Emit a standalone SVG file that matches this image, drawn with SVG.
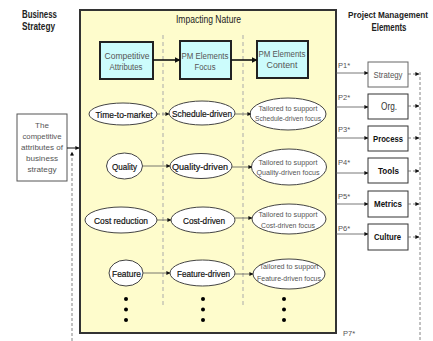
<svg xmlns="http://www.w3.org/2000/svg" width="433" height="341" viewBox="0 0 433 341">
<style>
text{font-family:"Liberation Sans",Arial,sans-serif;}
.hd{font-size:10.5px;font-weight:bold;fill:#222;}
.tt{font-size:10px;fill:#222;}
.bx{fill:#ccfcfc;stroke:#222;stroke-width:2;}
.bt{font-size:8.5px;fill:#555;text-anchor:middle;}
.el{fill:#fff;stroke:#444;stroke-width:1;}
.et{font-size:9.5px;fill:#111;text-anchor:middle;stroke:#111;stroke-width:0.2;}
.tl{font-size:8px;fill:#555;text-anchor:middle;}
.rb{fill:#fff;stroke:#333;stroke-width:1;}
.rt{font-size:9.5px;font-weight:bold;fill:#111;text-anchor:middle;}
.pl{font-size:7.5px;fill:#555;}
.sep{stroke:#aaa;stroke-width:1;stroke-dasharray:4 3;fill:none;}
.dash{stroke:#666;stroke-width:0.8;stroke-dasharray:3 2;fill:none;}
.thin{stroke:#555;stroke-width:0.8;fill:none;}
.thick{stroke:#111;stroke-width:1.6;fill:none;}
.dot{fill:#000;}
</style>
<defs>
<marker id="ah" viewBox="0 0 10 10" refX="9" refY="5" markerWidth="4" markerHeight="4" orient="auto" markerUnits="userSpaceOnUse"><path d="M0,0 L10,5 L0,10 z" fill="#111"/></marker>
<marker id="ahb" viewBox="0 0 10 10" refX="9" refY="5" markerWidth="6" markerHeight="6" orient="auto" markerUnits="userSpaceOnUse"><path d="M0,0 L10,5 L0,10 z" fill="#111"/></marker>
</defs>

<g id="headings">
<text class="hd" x="22" y="18" textLength="35" lengthAdjust="spacingAndGlyphs">Business</text>
<text class="hd" x="22" y="30" textLength="33" lengthAdjust="spacingAndGlyphs">Strategy</text>
<text class="hd" x="388" y="18" text-anchor="middle" style="font-size:8.5px" textLength="80" lengthAdjust="spacingAndGlyphs">Project Management</text>
<text class="hd" x="389" y="31" text-anchor="middle" textLength="35" lengthAdjust="spacingAndGlyphs">Elements</text>
</g>

<g id="impacting-nature">
<rect x="80" y="10" width="256" height="323" fill="#fefccc" stroke="#333" stroke-width="2"/>
<text class="tt" x="176" y="23" textLength="65" lengthAdjust="spacingAndGlyphs">Impacting Nature</text>
<line class="sep" x1="163" y1="35" x2="163" y2="307"/>
<line class="sep" x1="243" y1="35" x2="243" y2="307"/>
</g>

<g id="competitive-attributes">
<rect class="bx" x="100" y="42" width="53" height="37"/>
<text class="bt" x="127" y="59" textLength="45" lengthAdjust="spacingAndGlyphs">Competitive</text>
<text class="bt" x="126" y="70" textLength="33" lengthAdjust="spacingAndGlyphs">Attributes</text>
</g>
<g id="pm-elements-focus">
<rect class="bx" x="180" y="41" width="51" height="38"/>
<text class="bt" x="205" y="59" textLength="47" lengthAdjust="spacingAndGlyphs">PM Elements</text>
<text class="bt" x="205" y="70" textLength="21" lengthAdjust="spacingAndGlyphs">Focus</text>
</g>
<g id="pm-elements-content">
<rect class="bx" x="257" y="41" width="51" height="37"/>
<text class="bt" x="282" y="57" textLength="47" lengthAdjust="spacingAndGlyphs">PM Elements</text>
<text class="bt" x="282" y="68" textLength="31" lengthAdjust="spacingAndGlyphs">Content</text>
</g>

<g id="time-to-market"><ellipse class="el" cx="123" cy="114" rx="34" ry="11"/><text class="et" x="124" y="117.5" textLength="57" lengthAdjust="spacingAndGlyphs">Time-to-market</text></g>
<g id="schedule-driven"><ellipse class="el" cx="202" cy="113" rx="33" ry="12"/><text class="et" x="202" y="116.5" textLength="60" lengthAdjust="spacingAndGlyphs">Schedule-driven</text></g>
<g id="tailored-schedule"><ellipse class="el" cx="288" cy="114" rx="38" ry="16"/><text class="tl" x="288" y="111" textLength="59" lengthAdjust="spacingAndGlyphs">Tailored to support</text><text class="tl" x="288" y="121" textLength="66" lengthAdjust="spacingAndGlyphs">Schedule-driven focus</text></g>

<g id="quality"><ellipse class="el" cx="124.5" cy="166" rx="18" ry="13"/><text class="et" x="124.5" y="169.5" textLength="25" lengthAdjust="spacingAndGlyphs">Quality</text></g>
<g id="quality-driven"><ellipse class="el" cx="201" cy="166" rx="31" ry="12.5"/><text class="et" x="200" y="169.5" textLength="56" lengthAdjust="spacingAndGlyphs">Quality-driven</text></g>
<g id="tailored-quality"><ellipse class="el" cx="289" cy="167" rx="37.5" ry="18"/><text class="tl" x="288" y="165" textLength="59" lengthAdjust="spacingAndGlyphs">Tailored to support</text><text class="tl" x="288" y="175" textLength="63" lengthAdjust="spacingAndGlyphs">Quality-driven focus</text></g>

<g id="cost-reduction"><ellipse class="el" cx="121" cy="220" rx="36" ry="13"/><text class="et" x="121" y="223.5" textLength="54" lengthAdjust="spacingAndGlyphs">Cost reduction</text></g>
<g id="cost-driven"><ellipse class="el" cx="203" cy="220" rx="32" ry="13"/><text class="et" x="204" y="223.5" textLength="42" lengthAdjust="spacingAndGlyphs">Cost-driven</text></g>
<g id="tailored-cost"><ellipse class="el" cx="289" cy="219" rx="37" ry="15"/><text class="tl" x="288" y="216.5" textLength="59" lengthAdjust="spacingAndGlyphs">Tailored to support</text><text class="tl" x="288" y="227.5" textLength="54" lengthAdjust="spacingAndGlyphs">Cost-driven focus</text></g>

<g id="feature"><ellipse class="el" cx="126" cy="273" rx="17" ry="13"/><text class="et" x="126.5" y="276.5" textLength="29" lengthAdjust="spacingAndGlyphs">Feature</text></g>
<g id="feature-driven"><ellipse class="el" cx="202.5" cy="273" rx="32.5" ry="13"/><text class="et" x="203.5" y="276.5" textLength="53" lengthAdjust="spacingAndGlyphs">Feature-driven</text></g>
<g id="tailored-feature"><ellipse class="el" cx="289" cy="274" rx="36" ry="15"/><text class="tl" x="289" y="269" textLength="59" lengthAdjust="spacingAndGlyphs">Tailored to support</text><text class="tl" x="289" y="281" textLength="64" lengthAdjust="spacingAndGlyphs">Feature-driven focus</text></g>

<g id="ellipsis-dots">
<circle class="dot" cx="126" cy="299" r="2"/><circle class="dot" cx="126" cy="309.5" r="2"/><circle class="dot" cx="126" cy="320" r="2"/>
<circle class="dot" cx="203" cy="299" r="2"/><circle class="dot" cx="203" cy="309.5" r="2"/><circle class="dot" cx="203" cy="320" r="2"/>
<circle class="dot" cx="284" cy="299" r="2"/><circle class="dot" cx="284" cy="309.5" r="2"/><circle class="dot" cx="284" cy="320" r="2"/>
</g>

<g id="business-strategy-box">
<rect x="17" y="114" width="50" height="67" fill="#fff" stroke="#555" stroke-width="1"/>
<text class="tl" x="42" y="128">The</text>
<text class="tl" x="42" y="139" textLength="39" lengthAdjust="spacingAndGlyphs">competitive</text>
<text class="tl" x="42" y="150" textLength="42" lengthAdjust="spacingAndGlyphs">attributes of</text>
<text class="tl" x="42" y="161" textLength="32" lengthAdjust="spacingAndGlyphs">business</text>
<text class="tl" x="42" y="172" textLength="29" lengthAdjust="spacingAndGlyphs">strategy</text>
</g>

<g id="strategy"><rect x="368" y="62" width="40" height="25" fill="#fff" stroke="#666" stroke-width="1"/><text x="388" y="77.5" font-size="8.5" fill="#555" text-anchor="middle" textLength="29" lengthAdjust="spacingAndGlyphs">Strategy</text></g>
<g id="org"><rect class="rb" x="368" y="94" width="40" height="25"/><text x="389" y="110" font-size="10" fill="#333" text-anchor="middle" textLength="16" lengthAdjust="spacingAndGlyphs">Org.</text></g>
<g id="process"><rect class="rb" x="368" y="126" width="40" height="25"/><text class="rt" x="388" y="142" textLength="30" lengthAdjust="spacingAndGlyphs">Process</text></g>
<g id="tools"><rect class="rb" x="368" y="158" width="40" height="25"/><text class="rt" x="388.5" y="174" textLength="21" lengthAdjust="spacingAndGlyphs">Tools</text></g>
<g id="metrics"><rect class="rb" x="368" y="191" width="40" height="26"/><text class="rt" x="388" y="207" textLength="28" lengthAdjust="spacingAndGlyphs">Metrics</text></g>
<g id="culture"><rect class="rb" x="368" y="224" width="40" height="26"/><text class="rt" x="387.5" y="240" textLength="27" lengthAdjust="spacingAndGlyphs">Culture</text></g>

<g id="p-labels">
<text class="pl" x="338" y="68">P1*</text>
<text class="pl" x="338" y="100">P2*</text>
<text class="pl" x="338" y="132">P3*</text>
<text class="pl" x="338" y="165">P4*</text>
<text class="pl" x="338" y="199">P5*</text>
<text class="pl" x="338" y="231">P6*</text>
<text class="pl" x="343" y="336">P7*</text>
</g>

<g id="connectors">
<line class="thick" x1="153" y1="60" x2="180" y2="60" marker-end="url(#ahb)"/>
<line class="thick" x1="231" y1="60" x2="257" y2="60" marker-end="url(#ahb)"/>
<line class="dash" x1="157" y1="114" x2="169" y2="114" marker-end="url(#ah)"/>
<line class="thin" x1="235" y1="114" x2="251" y2="114" marker-end="url(#ah)"/>
<line class="thin" x1="142.5" y1="166" x2="170" y2="166" marker-end="url(#ah)"/>
<line class="thin" x1="232" y1="167" x2="252" y2="167" marker-end="url(#ah)"/>
<line class="thin" x1="157" y1="220" x2="171" y2="220" marker-end="url(#ah)"/>
<line class="thin" x1="235" y1="218" x2="252" y2="218" marker-end="url(#ah)"/>
<line class="thin" x1="143" y1="273" x2="170" y2="273" marker-end="url(#ah)"/>
<line class="thin" x1="235" y1="274" x2="253" y2="274" marker-end="url(#ah)"/>
<line stroke="#111" stroke-width="1" x1="67" y1="148" x2="79" y2="148" marker-end="url(#ah)"/>
<line class="dash" x1="72" y1="341" x2="72" y2="152" marker-end="url(#ah)"/>
<line class="thin" x1="336" y1="73" x2="368" y2="73" marker-end="url(#ah)"/>
<line class="thin" x1="336" y1="107" x2="368" y2="107" marker-end="url(#ah)"/>
<line class="thin" x1="336" y1="138" x2="368" y2="138" marker-end="url(#ah)"/>
<line class="thin" x1="336" y1="173" x2="368" y2="173" marker-end="url(#ah)"/>
<line class="thin" x1="336" y1="204" x2="368" y2="204" marker-end="url(#ah)"/>
<line class="thin" x1="336" y1="234" x2="368" y2="234" marker-end="url(#ah)"/>
<line class="dash" x1="420" y1="72" x2="420" y2="341"/>
<line class="dash" x1="408" y1="74" x2="419" y2="74" marker-end="url(#ah)"/>
<line class="dash" x1="408" y1="106" x2="419" y2="106" marker-end="url(#ah)"/>
<line class="dash" x1="408" y1="138" x2="419" y2="138" marker-end="url(#ah)"/>
<line class="dash" x1="408" y1="171" x2="419" y2="171" marker-end="url(#ah)"/>
<line class="dash" x1="408" y1="204" x2="419" y2="204" marker-end="url(#ah)"/>
<line class="dash" x1="408" y1="237" x2="419" y2="237" marker-end="url(#ah)"/>
</g>
</svg>
